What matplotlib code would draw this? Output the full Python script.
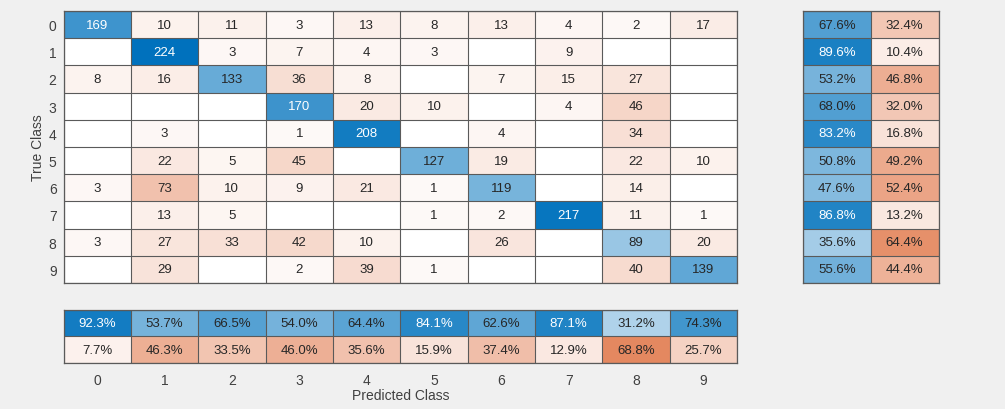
import numpy as np
import matplotlib.pyplot as plt

plt.rcParams['font.family'] = ['Liberation Sans', 'DejaVu Sans']

classes = ['0', '1', '2', '3', '4', '5', '6', '7', '8', '9']

# confusion counts, rows = true class, cols = predicted class
conf = np.array([
    [169, 10, 11, 3, 13, 8, 13, 4, 2, 17],
    [0, 224, 3, 7, 4, 3, 0, 9, 0, 0],
    [8, 16, 133, 36, 8, 0, 7, 15, 27, 0],
    [0, 0, 0, 170, 20, 10, 0, 4, 46, 0],
    [0, 3, 0, 1, 208, 0, 4, 0, 34, 0],
    [0, 22, 5, 45, 0, 127, 19, 0, 22, 10],
    [3, 73, 10, 9, 21, 1, 119, 0, 14, 0],
    [0, 13, 5, 0, 0, 1, 2, 217, 11, 1],
    [3, 27, 33, 42, 10, 0, 26, 0, 89, 20],
    [0, 29, 0, 2, 39, 1, 0, 0, 40, 139],
])

BLUE = np.array([0, 114, 189]) / 255.0
ORANGE = np.array([217, 83, 25]) / 255.0
BG = '#f0f0f0'
EDGE = '#5a5a5a'
DARK = '#262626'
LIGHT = '#ffffff'


def shade(t, end):
    t = np.clip(t, 0, 1)[..., None]
    return 1 - t * (1 - end)


def draw_grid(ax, nrows, ncols):
    ax.set_xticks(np.arange(-0.5, ncols, 1), minor=True)
    ax.set_yticks(np.arange(-0.5, nrows, 1), minor=True)
    ax.grid(which='minor', color=EDGE, linewidth=0.8)
    ax.tick_params(which='minor', length=0)
    for s in ax.spines.values():
        s.set_color(EDGE)
        s.set_linewidth(0.9)


fig = plt.figure(figsize=(10.05, 4.10), dpi=100, facecolor=BG)

# main matrix
ax = fig.add_axes([63.5 / 1005, 1 - 284 / 410, (737 - 63.5) / 1005, (284 - 12) / 410])
n = len(classes)
t = conf / conf.max()
img = np.ones((n, n, 3))
diag = np.eye(n, dtype=bool)
img[diag] = shade(t[diag], BLUE)
img[~diag] = shade(np.where(t[~diag] > 0, t[~diag] + 0.03, 0), ORANGE)
ax.imshow(img, aspect='auto', interpolation='nearest')
for i in range(n):
    for j in range(n):
        v = conf[i, j]
        if v == 0:
            continue
        col = LIGHT if (i == j and t[i, j] > 0.7) else DARK
        ax.text(j, i, str(v), ha='center', va='center', fontsize=9.5, color=col)
ax.set_xticks([])
ax.set_yticks(range(n))
ax.set_yticklabels(classes, fontsize=10, color='#404040')
ax.tick_params(axis='y', length=0, pad=5)
ax.set_ylabel('True Class', fontsize=10, color='#404040', labelpad=3)
draw_grid(ax, n, n)

# row summary (true positive rate / false negative rate)
row_tp = np.diag(conf) / conf.sum(axis=1) * 100
row_sum = np.column_stack([row_tp, 100 - row_tp])
axr = fig.add_axes([803 / 1005, 1 - 284 / 410, (938.5 - 803) / 1005, (284 - 12) / 410])
rimg = np.ones((n, 2, 3))
rimg[:, 0] = shade(row_sum[:, 0] / 100, BLUE)
rimg[:, 1] = shade(row_sum[:, 1] / 100, ORANGE)
axr.imshow(rimg, aspect='auto', interpolation='nearest')
for i in range(n):
    for j in range(2):
        v = row_sum[i, j]
        col = LIGHT if (j == 0 and v > 80) else DARK
        axr.text(j, i, f'{v:.1f}%', ha='center', va='center', fontsize=9.5, color=col)
axr.set_xticks([])
axr.set_yticks([])
draw_grid(axr, n, 2)

# column summary (positive predictive value / false discovery rate)
col_tp = np.diag(conf) / conf.sum(axis=0) * 100
col_sum = np.vstack([col_tp, 100 - col_tp])
axc = fig.add_axes([63.5 / 1005, 1 - 364 / 410, (737 - 63.5) / 1005, (364 - 310.5) / 410])
cimg = np.ones((2, n, 3))
cimg[0] = shade(col_sum[0] / 100, BLUE)
cimg[1] = shade(col_sum[1] / 100, ORANGE)
axc.imshow(cimg, aspect='auto', interpolation='nearest')
for i in range(2):
    for j in range(n):
        v = col_sum[i, j]
        col = LIGHT if (i == 0 and v > 80) else DARK
        axc.text(j, i, f'{v:.1f}%', ha='center', va='center', fontsize=9.5, color=col)
axc.set_yticks([])
axc.set_xticks(range(n))
axc.set_xticklabels(classes, fontsize=10, color='#404040')
axc.tick_params(axis='x', length=0, pad=7)
axc.set_xlabel('Predicted Class', fontsize=10, color='#404040', labelpad=1)
draw_grid(axc, 2, n)

fig.savefig('out.png', dpi=100, facecolor=BG)
